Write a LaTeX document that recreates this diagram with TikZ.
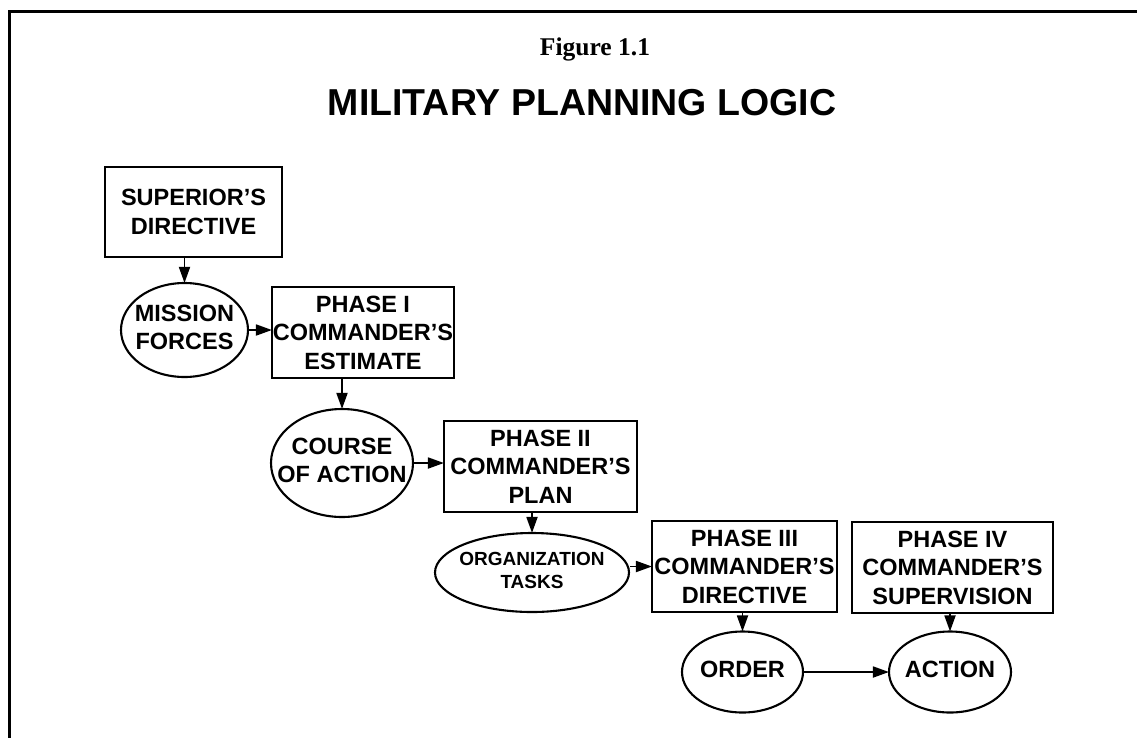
\documentclass[tikz,border=0pt]{standalone}
\usepackage{fontspec}
\setmainfont{Liberation Sans}
\newfontfamily\titleserif{Liberation Serif}
\usetikzlibrary{arrows.meta,shapes.geometric}
\newcommand\ovaltext[1]{\makebox[0pt][c]{\begin{tabular}{@{}c@{}}#1\end{tabular}}}
\tikzset{
  boxnode/.style={draw,line width=2.1pt,rectangle,inner sep=0pt,align=center,
    font=\fontsize{23.5}{28.5}\selectfont\bfseries},
  ovalnode/.style={draw,line width=2.1pt,ellipse,inner sep=0pt,
    font=\fontsize{23.5}{28.5}\selectfont\bfseries},
  link/.style={line width=1.8pt,-{Triangle[length=16pt,width=11pt]},shorten >=-1pt}
}
\begin{document}
\begin{tikzpicture}[x=1pt,y=-1pt]
\useasboundingbox (0,0) rectangle (1137,737);
\fill[white] (0,0) rectangle (1137,737);
% frame (top and left edges visible)
\draw[line width=3pt] (9,745) -- (9,11) -- (1145,11);
% titles
\node[font=\titleserif\fontsize{25.5}{30}\selectfont\bfseries,anchor=base] (fig) at (595,55) {Figure 1.1};
\node[font=\fontsize{37.5}{44}\selectfont\bfseries,anchor=base] (ttl) at (582,115) {MILITARY PLANNING LOGIC};
% nodes
\node[boxnode,minimum width=177pt,minimum height=90pt] (sup) at (193.5,212) {SUPERIOR’S\\DIRECTIVE};
\node[ovalnode,minimum width=127pt,minimum height=94pt] (mis) at (184.5,330) {\ovaltext{MISSION\\FORCES}};
\node[boxnode,minimum width=182pt,minimum height=91pt] (p1) at (363,332.5) {PHASE I\\COMMANDER’S\\ESTIMATE};
\node[ovalnode,minimum width=142pt,minimum height=108pt] (cou) at (342,463) {\ovaltext{COURSE\\OF ACTION}};
\node[boxnode,minimum width=193pt,minimum height=91pt] (p2) at (540.5,466.5) {PHASE II\\COMMANDER’S\\PLAN};
\node[ovalnode,minimum width=194pt,minimum height=79pt,font=\fontsize{19}{22.5}\selectfont\bfseries] (org) at (532,572.5) {\ovaltext{ORGANIZATION\\TASKS}};
\node[boxnode,minimum width=185pt,minimum height=91pt] (p3) at (744.5,566.5) {PHASE III\\COMMANDER’S\\DIRECTIVE};
\node[boxnode,minimum width=201pt,minimum height=91pt] (p4) at (952.5,567.5) {PHASE IV\\COMMANDER’S\\SUPERVISION};
\node[ovalnode,minimum width=121pt,minimum height=81pt] (ord) at (742.5,672) {\ovaltext{ORDER}};
\node[ovalnode,minimum width=122pt,minimum height=81pt] (act) at (950,672) {\ovaltext{ACTION}};
% connectors
\draw[link] (sup.south -| mis.north) -- (mis.north);
\draw[link] (mis.east) -- (mis.east -| p1.west);
\draw[link] (p1.south -| cou.north) -- (cou.north);
\draw[link] (cou.east) -- (cou.east -| p2.west);
\draw[link] (p2.south -| org.north) -- (org.north);
\draw[link] (org.east |- p3.west) -- (p3.west);
\draw[link] (p3.south -| ord.north) -- (ord.north);
\draw[link] (p4.south -| act.north) -- (act.north);
\draw[link] (ord.east) -- (act.west);
\end{tikzpicture}
\end{document}
